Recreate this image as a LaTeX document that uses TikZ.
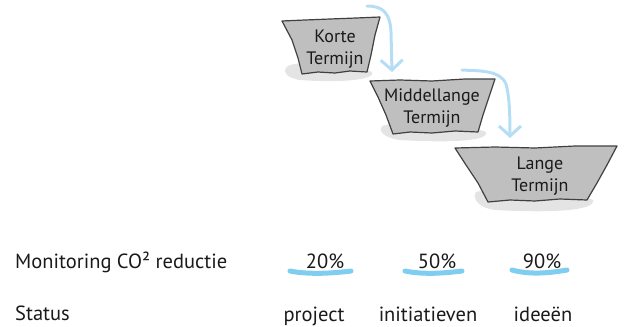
\documentclass[tikz,border=0pt]{standalone}
\usepackage{fontspec}
\setmainfont{PT Sans}
\usetikzlibrary{arrows.meta}
\definecolor{boxgray}{HTML}{BFBFBF}
\definecolor{edgegray}{HTML}{404040}
\definecolor{shadowgray}{HTML}{E4E4E4}
\definecolor{arrowblue}{HTML}{B5DEF5}
\definecolor{markblue}{HTML}{7FCDEF}
\definecolor{textgray}{HTML}{1A1A1A}
\begin{document}
\begin{tikzpicture}[x=1pt,y=-1pt,
  boxshape/.style={fill=boxgray,draw=edgegray,line width=1.2pt,line join=round},
  shade/.style={fill=shadowgray},
  lbl/.style={align=center,text=textgray,font=\fontsize{18}{21.5}\selectfont,inner sep=0pt},
  txt/.style={text=textgray,font=\fontsize{20.5}{24}\selectfont,inner sep=0pt},
  flow/.style={draw=arrowblue,line width=3pt,line cap=round,-{Straight Barb[length=10pt,width=22pt,line width=3pt]}},
  underline/.style={draw=markblue,line width=5pt,line cap=round}
]
\useasboundingbox (0,0) rectangle (625,327);

% shadows
\fill[shade] (288,66) .. controls (300,60) and (350,62) .. (372,72) .. controls (376,80) and (340,83) .. (300,80) .. controls (285,78) and (282,70) .. (288,66) -- cycle;
\fill[shade] (382,126) .. controls (400,120) and (460,122) .. (486,132) .. controls (490,141) and (450,143) .. (400,140) .. controls (383,138) and (378,130) .. (382,126) -- cycle;
\fill[shade] (476,192) .. controls (500,186) and (570,190) .. (593,200) .. controls (596,211) and (550,213) .. (495,210) .. controls (478,208) and (472,198) .. (476,192) -- cycle;

% boxes
\draw[boxshape] (282,21) -- (305,20) -- (330,19) -- (356,18) -- (380,17) -- (375,35) -- (371,55) -- (367,72) -- (350,71) -- (335,73) -- (318,72) -- (302,74) -- (298,58) -- (292,40) -- cycle;
\draw[boxshape] (370,81) -- (400,80) -- (432,81) -- (465,79) -- (495,79) -- (489,97) -- (483,115) -- (478,132) -- (455,131) -- (432,133) -- (410,132) -- (393,134) -- (386,115) -- (378,97) -- cycle;
\draw[boxshape] (455,148) -- (495,147) -- (535,148) -- (575,146) -- (617,146) -- (607,165) -- (597,183) -- (587,200) -- (560,199) -- (535,201) -- (510,200) -- (488,202) -- (478,183) -- (466,165) -- cycle;

% box labels
\node[lbl] (k) at (335,49) {Korte\\Termijn};
\node[lbl] (m) at (432,108) {Middellange\\Termijn};
\node[lbl] (l) at (540,176) {Lange\\Termijn};

% connector end points
\coordinate (a1s) at (367,6);
\coordinate (a1e) at (392,72);
\coordinate (a2s) at (462,70);
\coordinate (a2e) at (510,138);

\draw[flow] (a1s) .. controls (384,6) and (390,14) .. (391,32) -- (a1e);
\draw[flow] (a2s) .. controls (480,71) and (500,70) .. (506,84) .. controls (509,95) and (510,110) .. (a2e);

% bottom rows
\node[txt,anchor=base west] (mon) at (15,268) {Monitoring CO² reductie};
\node[txt,anchor=base west] (st) at (15,320) {Status};

\draw[underline] (290,271) .. controls (310,275) and (335,273) .. (351,271);
\draw[underline] (405,271) .. controls (425,275) and (445,273) .. (462,271);
\draw[underline] (512,270) .. controls (530,275) and (550,273) .. (567,270);

\node[txt,anchor=base] (p20) at (325,268) {20\%};
\node[txt,anchor=base] (p50) at (437,268) {50\%};
\node[txt,anchor=base] (p90) at (542,268) {90\%};

\node[txt,anchor=base] (s1) at (314,321) {project};
\node[txt,anchor=base] (s2) at (428,321) {initiatieven};
\node[txt,anchor=base] (s3) at (543,321) {ideeën};
\end{tikzpicture}
\end{document}
